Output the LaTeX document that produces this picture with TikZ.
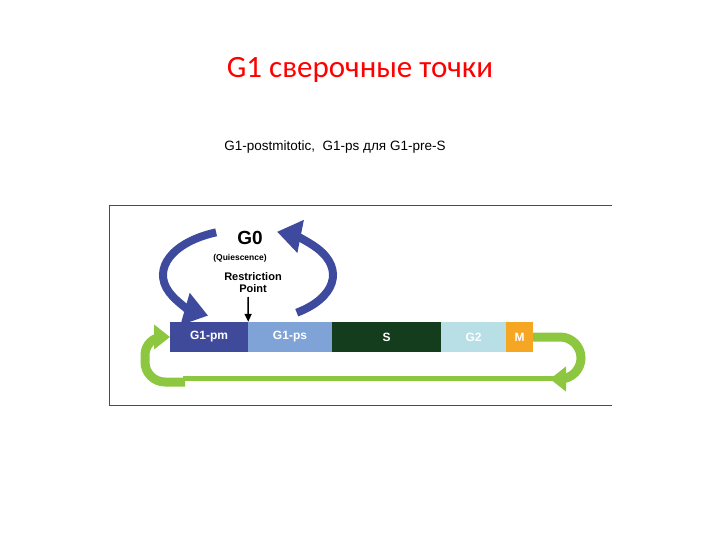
\documentclass[tikz,border=0pt]{standalone}
\usepackage{fontspec}
\setmainfont{Liberation Sans}
\newfontfamily\titlefont{Carlito}
\usetikzlibrary{arrows.meta}
\definecolor{gpm}{HTML}{3F4A9A}
\definecolor{gps}{HTML}{7FA3D6}
\definecolor{gs}{HTML}{143D1E}
\definecolor{gtwo}{HTML}{B9DFE6}
\definecolor{gm}{HTML}{F5A623}
\definecolor{lgreen}{HTML}{8DC63F}
\definecolor{loop}{HTML}{3E4A9E}
\tikzset{phase/.style={minimum height=30pt,inner sep=0,font=\bfseries\fontsize{12}{12}\selectfont,text=white},
 bluearc/.style={draw=loop,line width=8pt,-{Triangle[length=24pt,width=32pt]}},
 greenarc/.style={draw=lgreen,line width=9pt}}
\begin{document}
\begin{tikzpicture}[x=1pt,y=-1pt]
\useasboundingbox (0,0) rectangle (720,540);
\node[text=red,font=\titlefont\fontsize{31}{31}\selectfont] (title) at (360,70) {G1 сверочные точки};
\node[font=\fontsize{13.5}{14}\selectfont] (sub) at (335,147) {G1-postmitotic,\ \ G1-ps для G1-pre-S};
\draw[gray!60!black,line width=0.8pt] (612,205) -- (109,205) -- (109,405) -- (612,405);
% green cycle
\draw[lgreen,line width=5pt] (183,378) -- (555,378);
\draw[greenarc,-{Triangle[length=16pt,width=24pt]}] (185,382) -- (165,382) arc[start angle=90,end angle=180,radius=20] -- (145,355) arc[start angle=180,end angle=270,radius=18] -- (170,337);
\draw[greenarc,-{Triangle[length=16pt,width=24pt]}] (530,337) -- (560,337) arc[start angle=-90,end angle=90,radius=21] -- (550,379);
% bars
\node[phase,fill=gpm,minimum width=78pt] (pm) at (209,337) {G1-pm};
\node[phase,fill=gps,minimum width=84pt] (ps) at (290,337) {G1-ps};
\node[phase,fill=gs,minimum width=109pt] (s) at (386.5,337) {S};
\node[phase,fill=gtwo,minimum width=65pt] (g2) at (473.5,337) {G2};
\node[phase,fill=gm,minimum width=27pt] (m) at (519.5,337) {M};
% blue loop
\draw[bluearc] (248,275) ++(55:85 and 46) arc[start angle=55,end angle=-70,x radius=85,y radius=46];
\draw[bluearc] (248,275) ++(-112:85 and 46) arc[start angle=-112,end angle=-242,x radius=85,y radius=46];
\node[font=\bfseries\fontsize{19}{19}\selectfont] (g0) at (250,238) {G0};
\node[font=\bfseries\fontsize{8.5}{9}\selectfont] (q) at (240,258) {(Quiescence)};
\node[font=\bfseries\fontsize{11}{12}\selectfont,align=center] (rp) at (253,283) {Restriction\\Point};
\draw[-{Triangle[length=8pt,width=7pt]},line width=1.5pt] (248,297) -- (pm.north east);
\end{tikzpicture}
\end{document}
